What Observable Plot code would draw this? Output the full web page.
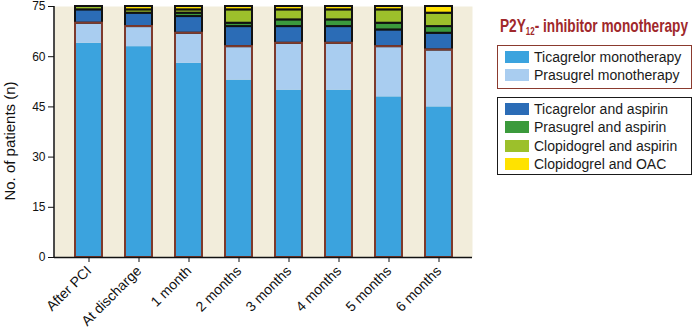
<!DOCTYPE html>
<html>
<head>
<meta charset="utf-8">
<script src="https://cdn.jsdelivr.net/npm/d3@7"></script>
<script src="https://cdn.jsdelivr.net/npm/@observablehq/plot@0.6"></script>
<style>
  html, body { margin: 0; padding: 0; background: #fff; }
  #wrap { position: relative; width: 693px; height: 331px; overflow: hidden; font-family: "Liberation Sans", Arial, sans-serif; }
  #chart { position: absolute; left: 0; top: 0; }
  .ylab { position: absolute; left: 8.5px; top: 141px; transform: translate(-50%, -50%) rotate(-90deg); white-space: nowrap; font-size: 15px; color: #111; }
  .ltitle { position: absolute; left: 500px; top: 15px; white-space: nowrap; font-family: "Liberation Sans", Arial, sans-serif; font-weight: bold; font-size: 19px; color: #a0282b; transform-origin: 0 50%; }
  .ltitle sub { font-size: 11px; vertical-align: -3px; }
  .box { position: absolute; left: 497px; width: 195px; box-sizing: border-box; }
  .row { position: absolute; left: 7px; height: 12px; white-space: nowrap; font-size: 14px; color: #1a1a1a; }
  .sw { position: absolute; left: 0; top: 0; width: 24px; height: 12px; }
  .tx { position: absolute; left: 29px; top: -3px; line-height: 18px; }
</style>
</head>
<body>
<div id="wrap">
  <div id="chart"></div>
  <div class="ylab">No. of patients (n)</div>
  <div id="legend"></div>
</div>
<script>
const categories = ["After PCI", "At discharge", "1 month", "2 months", "3 months", "4 months", "5 months", "6 months"];
const seriesNames = ["Ticagrelor monotherapy", "Prasugrel monotherapy", "Ticagrelor and aspirin", "Prasugrel and aspirin", "Clopidogrel and aspirin", "Clopidogrel and OAC"];
const seriesColors = ["#3ba3de", "#a9cdf0", "#2b6cb6", "#3b9a3c", "#9cc02b", "#ffe200"];
const ticagrelorMono = [64, 63, 58, 53, 50, 50, 48, 45];
const prasugrelMono = [6, 6, 9, 10, 14, 14, 15, 17];
const ticagrelorAspirin = [4, 4, 5, 6, 5, 5, 5, 5];
const prasugrelAspirin = [0, 0, 1, 1, 2, 2, 2, 2];
const clopidogrelAspirin = [1, 1, 1, 4, 3, 3, 4, 4];
const clopidogrelOAC = [0, 1, 1, 1, 1, 1, 1, 2];
const yTicks = [0, 15, 30, 45, 60, 75];

const seriesValues = [ticagrelorMono, prasugrelMono, ticagrelorAspirin, prasugrelAspirin, clopidogrelAspirin, clopidogrelOAC];
const rows = [];
const monoRows = [];
categories.forEach((cat, i) => {
  let acc = 0;
  seriesValues.forEach((vals, s) => {
    const v = vals[i];
    if (v > 0) rows.push({cat, series: seriesNames[s], mono: s < 2, y1: acc, y2: acc + v});
    acc += v;
  });
  monoRows.push({cat, top: ticagrelorMono[i] + prasugrelMono[i]});
});

const marginLeft = 54, marginTop = 6;
const chart = Plot.plot({
  width: 490,
  height: 331,
  marginLeft,
  marginRight: 18,
  marginTop,
  marginBottom: 74,
  style: {fontFamily: "'Liberation Sans', Arial, sans-serif", color: "#111", background: "transparent"},
  x: {type: "band", domain: categories, paddingInner: 0.46, paddingOuter: 0.36},
  y: {domain: [0, 75]},
  color: {domain: seriesNames, range: seriesColors},
  marks: [
    Plot.frame({fill: "#f2eddb", stroke: "none"}),
    Plot.barY(rows.filter(d => d.mono), {x: "cat", y1: "y1", y2: "y2", fill: "series"}),
    Plot.barY(rows.filter(d => !d.mono), {x: "cat", y1: "y1", y2: "y2", fill: "series", stroke: "#111", strokeWidth: 2}),
    Plot.barY(monoRows, {x: "cat", y1: 0, y2: "top", fill: "none", stroke: "#7e3a2c", strokeWidth: 2}),
    Plot.axisY({ticks: yTicks, tickSize: 6, tickPadding: 3, fontSize: 12, label: null}),
    Plot.axisX({tickRotate: -45, tickSize: 5, tickPadding: 6, fontSize: 14, label: null}),
    Plot.ruleY([0], {stroke: "#111", strokeWidth: 1.5})
  ]
});
document.getElementById("chart").appendChild(chart);

// y axis line, placed from the y scale
const ys = chart.scale("y");
d3.select(chart).append("line")
  .attr("x1", marginLeft).attr("x2", marginLeft)
  .attr("y1", ys.apply(0)).attr("y2", ys.apply(75))
  .attr("stroke", "#111").attr("stroke-width", 1.5);

// legend
const legend = document.getElementById("legend");
const title = document.createElement("div");
title.className = "ltitle";
title.innerHTML = "P2Y<sub>12</sub>- inhibitor monotherapy";
legend.appendChild(title);
const tw = title.getBoundingClientRect().width;
title.style.transform = "scaleX(" + (188 / tw) + ")";

function makeBox(top, height, border, items) {
  const box = document.createElement("div");
  box.className = "box";
  box.style.top = top + "px";
  box.style.height = height + "px";
  box.style.border = "1.5px solid " + border;
  items.forEach((idx, k) => {
    const r = document.createElement("div");
    r.className = "row";
    r.style.top = (4.5 + k * 18.5) + "px";
    const sw = document.createElement("div");
    sw.className = "sw";
    sw.style.background = seriesColors[idx];
    const tx = document.createElement("div");
    tx.className = "tx";
    tx.textContent = seriesNames[idx];
    r.appendChild(sw); r.appendChild(tx);
    box.appendChild(r);
  });
  legend.appendChild(box);
}
makeBox(45, 44, "#8b3a2e", [0, 1]);
makeBox(97, 78, "#1a1a1a", [2, 3, 4, 5]);
</script>
</body>
</html>
